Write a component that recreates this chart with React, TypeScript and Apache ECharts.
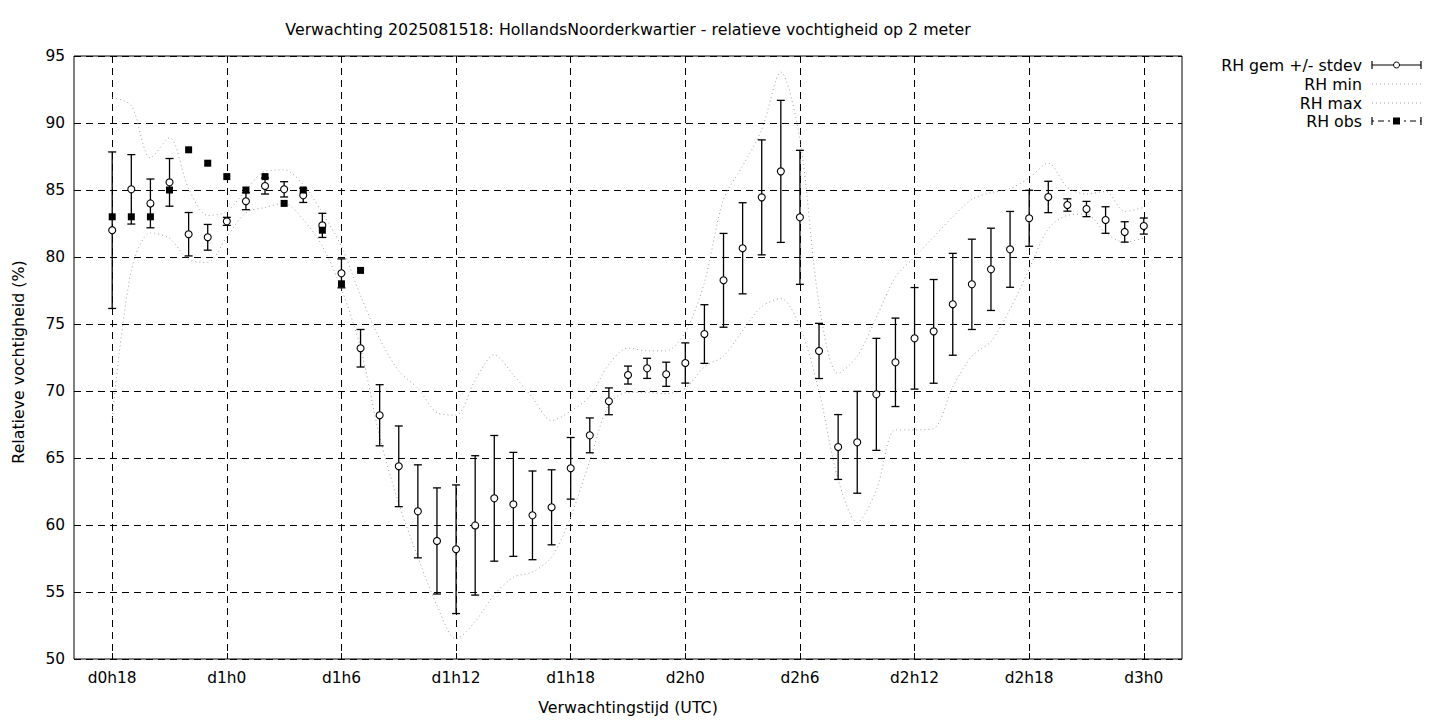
import React, { useEffect, useRef } from "react";
import * as echarts from "echarts";

// Forecast hours (hours after d0h0)
const hours = [
  18, 19, 20, 21, 22, 23, 24, 25, 26, 27, 28, 29, 30, 31, 32, 33, 34, 35, 36,
  37, 38, 39, 40, 41, 42, 43, 44, 45, 46, 47, 48, 49, 50, 51, 52, 53, 54, 55,
  56, 57, 58, 59, 60, 61, 62, 63, 64, 65, 66, 67, 68, 69, 70, 71, 72,
];

const rhMean = [
  82.0, 85.05, 84.0, 85.57, 81.7, 81.47, 82.66, 84.16, 85.3, 85.05, 84.6, 82.36,
  78.78, 73.19, 68.19, 64.38, 61.02, 58.81, 58.19, 59.97, 61.99, 61.54, 60.72,
  61.32, 64.23, 66.69, 69.23, 71.19, 71.69, 71.25, 72.09, 74.25, 78.26, 80.65,
  84.45, 86.39, 82.96, 72.99, 65.82, 66.17, 69.75, 72.14, 73.93, 74.45, 76.47,
  77.96, 79.08, 80.57, 82.89, 84.48, 83.88, 83.58, 82.76, 81.87, 82.31,
];

const rhStdev = [
  5.84, 2.59, 1.82, 1.78, 1.62, 0.96, 0.3, 0.63, 0.6, 0.57, 0.53, 0.9, 1.08,
  1.4, 2.28, 3.01, 3.47, 3.96, 4.8, 5.2, 4.69, 3.88, 3.31, 2.8, 2.3, 1.3, 1.0,
  0.67, 0.75, 0.9, 1.5, 2.19, 3.5, 3.4, 4.29, 5.3, 5.0, 2.06, 2.42, 3.8, 4.18,
  3.3, 3.79, 3.87, 3.8, 3.37, 3.07, 2.83, 2.09, 1.17, 0.46, 0.57, 0.99, 0.76,
  0.6,
];

const rhMin = [
  68.0, 79.0, 81.8, 81.4, 79.8, 79.6, 81.5, 83.3, 83.7, 84.0, 82.8, 80.8, 77.6,
  73.2, 66.6, 61.6, 57.6, 54.0, 51.5, 52.8, 54.8, 56.1, 56.5, 57.6, 60.6, 64.8,
  69.0, 69.9, 69.9, 69.8, 70.2, 71.8, 72.6, 74.5, 76.3, 76.9, 74.8, 70.0, 63.4,
  60.2, 62.6, 67.1, 67.1, 67.2, 70.3, 72.6, 73.7, 76.1, 79.1, 82.1, 83.1, 83.2,
  81.8, 81.1, 81.4,
];

const rhMax = [
  91.9, 91.3, 87.4, 88.9, 85.1, 83.1, 83.4, 85.0, 86.4, 86.5, 85.4, 83.3, 80.8,
  77.1, 73.9, 71.5, 70.2, 68.4, 68.2, 70.8, 72.7, 71.2, 69.5, 67.8, 68.5, 69.6,
  72.0, 73.2, 73.0, 73.0, 74.4, 78.1, 84.3, 86.8, 89.5, 93.8, 88.8, 76.5, 71.3,
  72.6, 75.5, 78.5, 80.0, 81.5, 83.0, 84.3, 84.8, 85.1, 85.9, 87.0, 85.2, 84.7,
  84.9, 83.4, 83.7,
];

const obsHours = [18, 19, 20, 21, 22, 23, 24, 25, 26, 27, 28, 29, 30, 31];
const rhObs = [83, 83, 83, 85, 88, 87, 86, 85, 86, 84, 85, 82, 78, 79];

const xTickHours = [18, 24, 30, 36, 42, 48, 54, 60, 66, 72];
const xTickLabels = [
  "d0h18", "d1h0", "d1h6", "d1h12", "d1h18", "d2h0", "d2h6", "d2h12", "d2h18", "d3h0",
];

const titleText =
  "Verwachting 2025081518: HollandsNoorderkwartier - relatieve vochtigheid op 2 meter";
const yTitle = "Relatieve vochtigheid (%)";
const xTitle = "Verwachtingstijd (UTC)";
const legendNames = ["RH gem +/- stdev", "RH min", "RH max", "RH obs"];

const FONT = "DejaVu Sans";
const FS = 15.8;
const TICK_FS = 15.4;

export default function App() {
  const ref = useRef<HTMLDivElement>(null);

  useEffect(() => {
    if (!ref.current) return;
    const chart = echarts.init(ref.current, null, { renderer: "svg" });

    const errData = hours.map((h, i) => [h, rhMean[i] - rhStdev[i], rhMean[i] + rhStdev[i]]);
    const meanData = hours.map((h, i) => [h, rhMean[i]]);
    const minData = hours.map((h, i) => [h, rhMin[i]]);
    const maxData = hours.map((h, i) => [h, rhMax[i]]);
    const obsData = obsHours.map((h, i) => [h, rhObs[i]]);

    const blk = "#000";
    const grey = "#a0a0a0";
    const lx0 = 1372;
    const lx1 = 1421;
    const lmid = (lx0 + lx1) / 2;
    const ly = [65, 84, 103, 121];

    const legendGraphics: any[] = [];
    legendNames.forEach((n, i) => {
      legendGraphics.push({
        type: "text",
        x: 1362,
        y: ly[i],
        style: {
          text: n,
          fill: blk,
          font: `${FS}px "${FONT}"`,
          textAlign: "right",
          textVerticalAlign: "middle",
        },
      });
    });
    legendGraphics.push(
      { type: "line", shape: { x1: lx0, y1: ly[0], x2: lx1, y2: ly[0] }, style: { stroke: blk, lineWidth: 1.2 } },
      { type: "line", shape: { x1: lx0, y1: ly[0] - 4, x2: lx0, y2: ly[0] + 4 }, style: { stroke: blk, lineWidth: 1.2 } },
      { type: "line", shape: { x1: lx1, y1: ly[0] - 4, x2: lx1, y2: ly[0] + 4 }, style: { stroke: blk, lineWidth: 1.2 } },
      { type: "circle", shape: { cx: lmid, cy: ly[0], r: 3 }, style: { fill: "#fff", stroke: blk, lineWidth: 1 } },
      { type: "line", shape: { x1: lx0, y1: ly[1], x2: lx1, y2: ly[1] }, style: { stroke: grey, lineWidth: 1, lineDash: [1, 3] } },
      { type: "line", shape: { x1: lx0, y1: ly[2], x2: lx1, y2: ly[2] }, style: { stroke: grey, lineWidth: 1, lineDash: [1, 3] } },
      { type: "line", shape: { x1: lx0, y1: ly[3], x2: lx1, y2: ly[3] }, style: { stroke: blk, lineWidth: 1, lineDash: [2, 4, 6, 4] } },
      { type: "line", shape: { x1: lx0, y1: ly[3] - 4, x2: lx0, y2: ly[3] + 4 }, style: { stroke: blk, lineWidth: 1.2 } },
      { type: "line", shape: { x1: lx1, y1: ly[3] - 4, x2: lx1, y2: ly[3] + 4 }, style: { stroke: blk, lineWidth: 1.2 } },
      { type: "rect", shape: { x: lmid - 3.5, y: ly[3] - 3.5, width: 7, height: 7 }, style: { fill: blk } }
    );

    const option: any = {
      animation: false,
      backgroundColor: "#fff",
      textStyle: { fontFamily: FONT },
      grid: {
        left: 74,
        right: 258,
        top: 56,
        bottom: 61,
        show: true,
        borderColor: blk,
        borderWidth: 1,
        backgroundColor: "transparent",
      },
      xAxis: {
        type: "value",
        min: 16,
        max: 74,
        axisLine: { show: false },
        axisTick: {
          show: true,
          inside: true,
          length: 6,
          customValues: xTickHours,
          lineStyle: { color: blk },
        },
        axisLabel: {
          customValues: xTickHours,
          color: blk,
          fontSize: TICK_FS,
          fontFamily: FONT,
          margin: 11,
          formatter: (v: number) => {
            const k = xTickHours.indexOf(v);
            return k >= 0 ? xTickLabels[k] : "";
          },
        },
        splitLine: {
          show: true,
          lineStyle: { color: blk, type: [7, 5], width: 1 },
        },
      },
      yAxis: {
        type: "value",
        min: 50,
        max: 95,
        interval: 5,
        axisLine: { show: false },
        axisTick: { show: true, inside: true, length: 6, lineStyle: { color: blk } },
        axisLabel: { color: blk, fontSize: TICK_FS, fontFamily: FONT, margin: 9 },
        splitLine: {
          show: true,
          lineStyle: { color: blk, type: [7, 5], width: 1 },
        },
      },
      graphic: [
        {
          type: "text",
          x: 628,
          y: 29,
          style: {
            text: titleText,
            fill: blk,
            font: `${FS}px "${FONT}"`,
            textAlign: "center",
            textVerticalAlign: "middle",
          },
        },
        {
          type: "text",
          x: 18,
          y: 362,
          rotation: Math.PI / 2,
          style: {
            text: yTitle,
            fill: blk,
            font: `${FS}px "${FONT}"`,
            textAlign: "center",
            textVerticalAlign: "middle",
          },
        },
        {
          type: "text",
          x: 628,
          y: 707,
          style: {
            text: xTitle,
            fill: blk,
            font: `${FS}px "${FONT}"`,
            textAlign: "center",
            textVerticalAlign: "middle",
          },
        },
        ...legendGraphics,
      ],
      series: [
        {
          name: "RH gem +/- stdev bars",
          type: "custom",
          data: errData,
          encode: { x: 0, y: [1, 2] },
          z: 3,
          renderItem: (_params: any, api: any) => {
            const x = api.value(0);
            const lo = api.coord([x, api.value(1)]);
            const hi = api.coord([x, api.value(2)]);
            const w = 4;
            const style = { stroke: blk, lineWidth: 1.3 };
            return {
              type: "group",
              children: [
                { type: "line", shape: { x1: lo[0], y1: lo[1], x2: hi[0], y2: hi[1] }, style },
                { type: "line", shape: { x1: lo[0] - w, y1: lo[1], x2: lo[0] + w, y2: lo[1] }, style },
                { type: "line", shape: { x1: hi[0] - w, y1: hi[1], x2: hi[0] + w, y2: hi[1] }, style },
              ],
            };
          },
        },
        {
          name: "RH gem",
          type: "scatter",
          data: meanData,
          symbol: "circle",
          symbolSize: 7,
          z: 4,
          itemStyle: { color: "#fff", borderColor: blk, borderWidth: 1.1, opacity: 1 },
        },
        {
          name: "RH min",
          type: "line",
          data: minData,
          showSymbol: false,
          smooth: 0.3,
          z: 2,
          lineStyle: { color: grey, width: 1, type: [1, 3] },
        },
        {
          name: "RH max",
          type: "line",
          data: maxData,
          showSymbol: false,
          smooth: 0.3,
          z: 2,
          lineStyle: { color: grey, width: 1, type: [1, 3] },
        },
        {
          name: "RH obs",
          type: "scatter",
          data: obsData,
          symbol: "rect",
          symbolSize: 7,
          z: 5,
          itemStyle: { color: blk, opacity: 1 },
        },
      ],
    };

    chart.setOption(option);
    return () => chart.dispose();
  }, []);

  return (
    <div
      ref={ref}
      style={{ position: "fixed", left: 0, top: 0, width: 1440, height: 720, background: "#fff" }}
    />
  );
}
